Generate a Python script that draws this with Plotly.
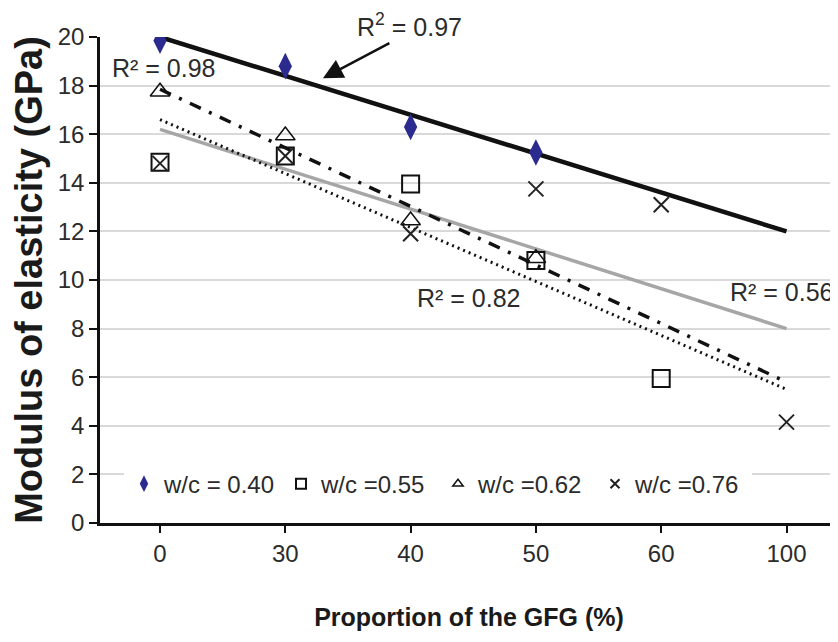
import plotly.graph_objects as go

# ---- data ----
categories = ["0", "30", "40", "50", "60", "100"]

wc040_x = ["0", "30", "40", "50"]
wc040_y = [19.85, 18.8, 16.3, 15.25]

wc055_x = ["0", "30", "40", "50", "60"]
wc055_y = [14.85, 15.1, 13.95, 10.8, 5.95]

wc062_x = ["0", "30", "40", "50"]
wc062_y = [17.75, 15.95, 12.45, 10.9]

wc076_x = ["0", "30", "40", "50", "60", "100"]
wc076_y = [14.8, 15.1, 11.9, 13.75, 13.1, 4.15]

# trend line end values (at first and last category)
trend_x = ["0", "100"]
trend040_y = [20.0, 12.0]
trend055_y = [16.6, 5.5]
trend062_y = [17.85, 5.8]
trend076_y = [16.2, 8.0]

legend_names = ["w/c = 0.40", "w/c =0.55", "w/c =0.62", "w/c =0.76"]
r2_labels = ["R<sup>2</sup> = 0.97", "R² = 0.98", "R² = 0.82", "R² = 0.56"]

FONT = "Liberation Sans, Arial, sans-serif"
TXT = "#2b2b2b"

fig = go.Figure()

# trend lines
fig.add_trace(go.Scatter(x=trend_x, y=trend076_y, mode="lines",
                         line=dict(color="#a6a6a6", width=3.5), showlegend=False, hoverinfo="skip"))
fig.add_trace(go.Scatter(x=trend_x, y=trend055_y, mode="lines",
                         line=dict(color="#111111", width=3, dash="2px,4px"), showlegend=False, hoverinfo="skip"))
fig.add_trace(go.Scatter(x=trend_x, y=trend062_y, mode="lines",
                         line=dict(color="#111111", width=3.5, dash="12px,9px,3px,9px"), showlegend=False, hoverinfo="skip"))
fig.add_trace(go.Scatter(x=trend_x, y=trend040_y, mode="lines",
                         line=dict(color="#111111", width=4.5), showlegend=False, hoverinfo="skip"))

# data markers
fig.add_trace(go.Scatter(x=wc055_x, y=wc055_y, mode="markers", showlegend=False,
                         marker=dict(symbol="square-open", size=17, color="#111111", line=dict(width=2))))
fig.add_trace(go.Scatter(x=wc062_x, y=wc062_y, mode="markers", showlegend=False,
                         marker=dict(symbol="triangle-up-open", size=17, color="#111111", line=dict(width=1.5))))
fig.add_trace(go.Scatter(x=wc076_x, y=wc076_y, mode="markers", showlegend=False,
                         marker=dict(symbol="x-thin-open", size=15, color="#222222", line=dict(width=2))))
fig.add_trace(go.Scatter(x=wc040_x, y=wc040_y, mode="markers", showlegend=False,
                         marker=dict(symbol="diamond-tall", size=19, color="#2b2b8f", line=dict(width=0))))

# legend-only entries (small symbols like the reference)
leg_markers = [
    dict(symbol="diamond-tall", size=12, color="#2b2b8f", line=dict(width=0)),
    dict(symbol="square-open", size=10, color="#111111", line=dict(width=2)),
    dict(symbol="triangle-up-open", size=9, color="#111111", line=dict(width=1.5)),
    dict(symbol="x-thin-open", size=9, color="#222222", line=dict(width=2)),
]
for name, mk in zip(legend_names, leg_markers):
    fig.add_trace(go.Scatter(x=[None], y=[None], mode="markers", name=name, marker=mk))

annots = [
    dict(x=1.995, y=1.0247, xref="x", yref="paper", yanchor="middle", xanchor="center",
         text=r2_labels[0], showarrow=False, bgcolor="white", borderpad=0),
    dict(x=-0.40, y=18.72, xref="x", yref="y", text=r2_labels[1], showarrow=False, xanchor="left"),
    dict(x=2.035, y=9.26, xref="x", yref="y", text=r2_labels[2], showarrow=False, xanchor="left"),
    dict(x=4.533, y=9.5, xref="x", yref="y", text=r2_labels[3], showarrow=False, xanchor="left"),
    # arrow pointing from the R^2 = 0.97 label to the w/c = 0.40 trend line (drawn on top)
    dict(x=1.30, y=18.3, xref="x", yref="y", text="", showarrow=True, arrowhead=2,
         arrowsize=1.6, arrowwidth=2.5, arrowcolor="#111111", ax=68, ay=-36),
]
for a in annots:
    a["font"] = dict(family=FONT, size=25, color=TXT)

# page body has an 8px margin: figure is shifted by 8px, compensate in size/margins
fig.update_layout(
    width=830, height=634,
    margin=dict(l=92, r=0, t=29, b=119),
    paper_bgcolor="white", plot_bgcolor="white",
    font=dict(family=FONT, size=24, color=TXT),
    annotations=annots,
    legend=dict(orientation="h", x=0.0325, xanchor="left", y=0.08, yanchor="middle",
                bgcolor="white", font=dict(family=FONT, size=24, color=TXT),
                entrywidth=112, itemwidth=30, tracegroupgap=0),
    showlegend=True,
)
fig.update_xaxes(
    type="category", categoryorder="array", categoryarray=categories,
    range=[-0.479, 5.411],
    showline=True, linecolor="#111111", linewidth=2.5,
    ticks="outside", ticklen=7, tickwidth=2, tickcolor="#111111",
    showgrid=False, zeroline=False,
    tickfont=dict(family=FONT, size=24, color=TXT),
    title=dict(text="<b>Proportion of the GFG (%)</b>",
               font=dict(family=FONT, size=25, color="#1a1a1a"), standoff=43),
)
fig.update_yaxes(
    range=[0, 20], dtick=2, tick0=0,
    showline=True, linecolor="#111111", linewidth=2.5,
    ticks="outside", ticklen=8, tickwidth=2, tickcolor="#111111",
    showgrid=True, gridcolor="#d9d9d9", gridwidth=2, zeroline=False,
    tickfont=dict(family=FONT, size=24, color=TXT),
    title=dict(text="<b>Modulus of elasticity (GPa)</b>",
               font=dict(family=FONT, size=38, color="#1a1a1a"), standoff=6),
)

fig.write_html("out.html")
